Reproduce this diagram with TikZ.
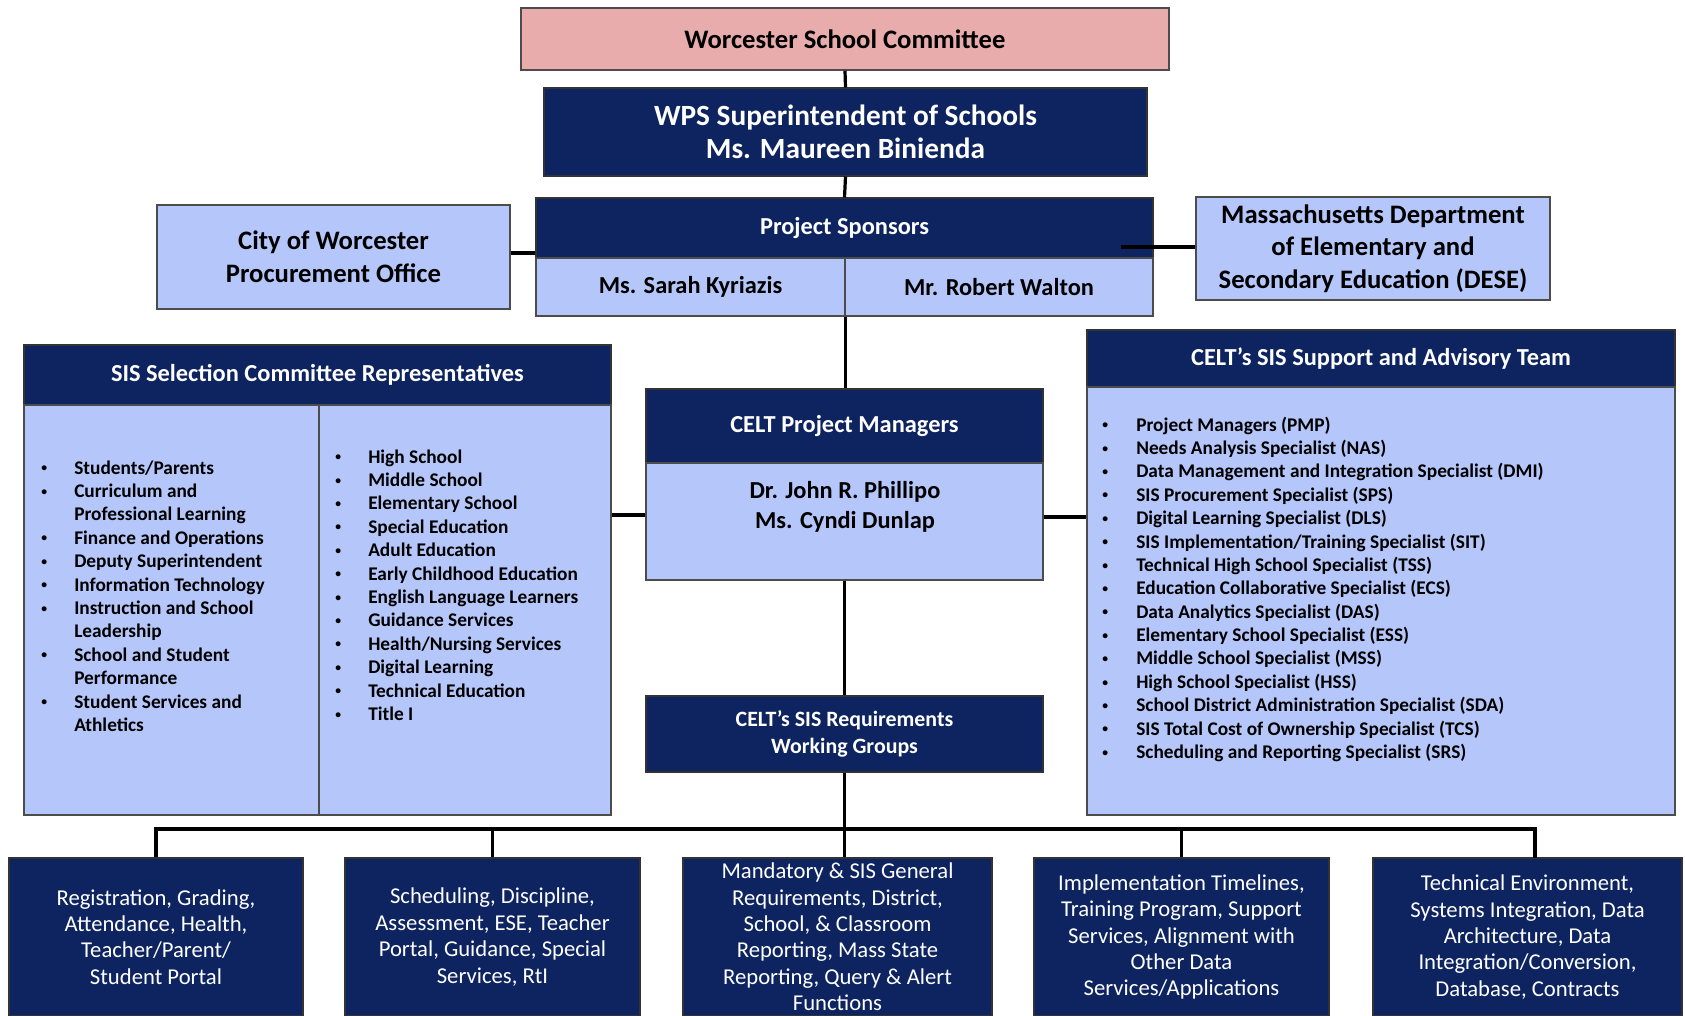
\documentclass[tikz,border=0pt]{standalone}
\usepackage{fontspec}
\usepackage{graphicx}
\setmainfont{Carlito}
\definecolor{navy}{RGB}{14,36,96}
\definecolor{lightb}{RGB}{181,199,250}
\definecolor{pinkc}{RGB}{232,172,172}
\newcommand\fsz[2]{\fontsize{#1}{#2}\selectfont}
\newcommand\bul{\raisebox{0.12em}{\scalebox{0.6}{\textbullet}}}
\newcommand\bx[7]{\node[#6, minimum width={(#4-#2)*0.75pt}, minimum height={(#5-#3)*0.75pt}] (#1) at ({(#2+#4)/2},{(#3+#5)/2}) {#7};}
\tikzset{
  dark/.style={rectangle, fill=navy, draw=black!80, line width=0.8pt, text=white, inner sep=0pt, align=center, font=\bfseries},
  lite/.style={rectangle, fill=lightb, draw=black!70, line width=1.3pt, text=black, inner sep=0pt, align=center, font=\bfseries},
  pinkbox/.style={rectangle, fill=pinkc, draw=black!70, line width=1.3pt, text=black, inner sep=0pt, align=center, font=\bfseries},
  conn/.style={line width=2.4pt, black},
  lst/.style={inner sep=0pt, anchor=base west, text=black, align=left, font=\bfseries\fsz{14.5}{17.55}},
  txt/.style={inner sep=0pt, align=center}
}
\begin{document}
\begin{tikzpicture}[x=0.75pt,y=-0.75pt]
\useasboundingbox (0,0) rectangle (1685,1016);
\clip (0,0) rectangle (1685,1016);
\fill[white] (0,0) rectangle (1685,1016);

% top chain
\bx{wsc}{521}{8}{1169}{70}{pinkbox,font=\bfseries\fsz{20}{24}}{Worcester School Committee}
\bx{wps}{544}{88}{1147}{176}{dark,font=\bfseries\fsz{22}{24.75}}{WPS Superintendent of Schools\\Ms. Maureen Binienda}
\bx{spons}{536}{198}{1153}{258}{dark,font=\bfseries\fsz{18.3}{22}}{Project Sponsors}
\bx{nk}{536}{258}{845}{316}{lite,font=\bfseries\fsz{18.3}{22}}{Ms. Sarah Kyriazis}
\bx{nw}{845}{258}{1153}{316}{lite,font=\bfseries\fsz{18.3}{22}}{Mr. Robert Walton}
\bx{city}{157}{205}{510}{309}{lite,font=\bfseries\fsz{20}{24.5}}{City of Worcester\\Procurement Office}
\bx{mass}{1196}{197}{1550}{300}{lite,font=\bfseries\fsz{20}{24.4}}{Massachusetts Department\\of Elementary and\\Secondary Education (DESE)}

% SIS selection committee
\bx{sish}{24}{345}{611}{405}{dark,font=\bfseries\fsz{18.3}{22}}{SIS Selection Committee Representatives}
\bx{sisa}{24}{405}{319}{815}{lite}{}
\bx{sisb}{319}{405}{611}{815}{lite}{}
\node[lst] (lista) at (41,474) {\begin{tabular}[t]{@{}p{24.75pt}@{}l@{}}
\bul & Students/Parents\\
\bul & Curriculum and\\
 & Professional Learning\\
\bul & Finance and Operations\\
\bul & Deputy Superintendent\\
\bul & Information Technology\\
\bul & Instruction and School\\
 & Leadership\\
\bul & School and Student\\
 & Performance\\
\bul & Student Services and\\
 & Athletics
\end{tabular}};
\node[lst] (listb) at (335,463) {\begin{tabular}[t]{@{}p{24.75pt}@{}l@{}}
\bul & High School\\
\bul & Middle School\\
\bul & Elementary School\\
\bul & Special Education\\
\bul & Adult Education\\
\bul & Early Childhood Education\\
\bul & English Language Learners\\
\bul & Guidance Services\\
\bul & Health/Nursing Services\\
\bul & Digital Learning\\
\bul & Technical Education\\
\bul & Title I
\end{tabular}};

% CELT project managers
\bx{pmh}{646}{389}{1043}{463}{dark,font=\bfseries\fsz{18.3}{22}}{CELT Project Managers}
\bx{pmb}{646}{463}{1043}{580}{lite}{}
\node[txt, font=\bfseries\fsz{18.3}{22.5}] (pmn) at (845,507) {Dr. John R. Phillipo\\Ms. Cyndi Dunlap};

% requirements working groups
\bx{req}{646}{696}{1043}{772}{dark,font=\bfseries\fsz{16.4}{20.2}}{CELT’s SIS Requirements\\Working Groups}

% advisory team
\bx{advh}{1087}{330}{1675}{387}{dark,font=\bfseries\fsz{18.3}{22}}{CELT’s SIS Support and Advisory Team}
\bx{advb}{1087}{387}{1675}{815}{lite}{}
\node[lst] (listc) at (1102,431) {\begin{tabular}[t]{@{}p{25.5pt}@{}l@{}}
\bul & Project Managers (PMP)\\
\bul & Needs Analysis Specialist (NAS)\\
\bul & Data Management and Integration Specialist (DMI)\\
\bul & SIS Procurement Specialist (SPS)\\
\bul & Digital Learning Specialist (DLS)\\
\bul & SIS Implementation/Training Specialist (SIT)\\
\bul & Technical High School Specialist (TSS)\\
\bul & Education Collaborative Specialist (ECS)\\
\bul & Data Analytics Specialist (DAS)\\
\bul & Elementary School Specialist (ESS)\\
\bul & Middle School Specialist (MSS)\\
\bul & High School Specialist (HSS)\\
\bul & School District Administration Specialist (SDA)\\
\bul & SIS Total Cost of Ownership Specialist (TCS)\\
\bul & Scheduling and Reporting Specialist (SRS)
\end{tabular}};

% bottom boxes
\bx{b1}{9}{858}{303}{1016}{dark,font=\fsz{17}{19.8}}{Registration, Grading,\\Attendance, Health,\\Teacher/Parent/\\Student Portal}
\bx{b2}{345}{858}{640}{1016}{dark,font=\fsz{17}{19.8}}{Scheduling, Discipline,\\Assessment, ESE, Teacher\\Portal, Guidance, Special\\Services, RtI}
\bx{b3}{683}{858}{992}{1016}{dark,font=\fsz{17}{19.8}}{Mandatory \& SIS General\\Requirements, District,\\School, \& Classroom\\Reporting, Mass State\\Reporting, Query \& Alert\\Functions}
\bx{b4}{1034}{858}{1329}{1016}{dark,font=\fsz{17}{19.8}}{Implementation Timelines,\\Training Program, Support\\Services, Alignment with\\Other Data\\Services/Applications}
\bx{b5}{1373}{858}{1682}{1016}{dark,font=\fsz{17}{19.8}}{Technical Environment,\\Systems Integration, Data\\Architecture, Data\\Integration/Conversion,\\Database, Contracts}

% connectors
\coordinate (busy) at (0,829);
\coordinate (massend) at (1121,247);
\coordinate (liney) at (0,515);
\coordinate (d5) at (1535,858);
\draw[conn] (wsc.south) -- (wps.north);
\draw[conn] (wps.south) -- (spons.north);
\draw[conn] (nk.south east) -- (nk.south east |- pmh.north);
\draw[conn] (pmb.south) -- (req.north);
\draw[conn] (req.south) -- (req.south |- b3.north);
\draw[conn] (b1.north) -- (b1.north |- busy) -- (d5 |- busy) -- (d5);
\draw[conn] (b2.north) -- (b2.north |- busy);
\draw[conn] (b4.north) -- (b4.north |- busy);
\draw[conn] (city.east |- 0,253) -- (spons.west |- 0,253);
\draw[conn] (mass.west |- massend) -- (massend);
\draw[conn] (sisb.east |- liney) -- (pmb.west |- liney);
\draw[line width=2.8pt] (pmb.east |- 0,517) -- (advb.west |- 0,517);
\end{tikzpicture}
\end{document}
